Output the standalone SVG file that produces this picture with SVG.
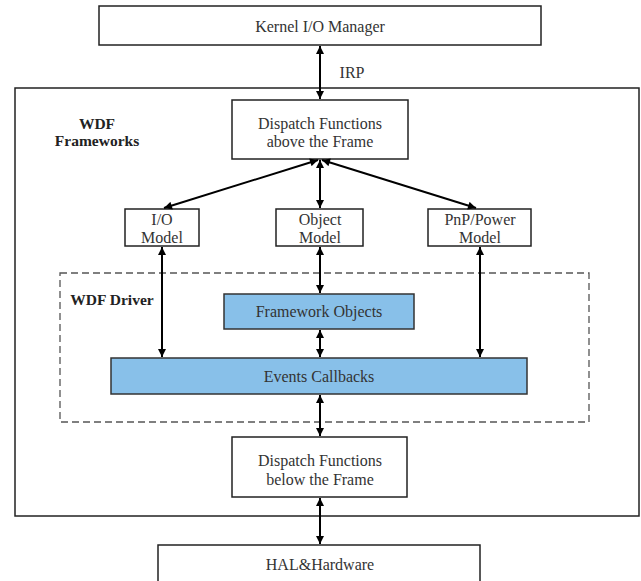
<svg xmlns="http://www.w3.org/2000/svg" width="641" height="581" viewBox="0 0 641 581">
<defs>
<marker id="ah" viewBox="0 0 10 10" refX="10" refY="5" markerWidth="9" markerHeight="8" markerUnits="userSpaceOnUse" orient="auto-start-reverse">
<path d="M0,0 L10,5 L0,10 z" fill="#000"/>
</marker>
<style>
.box{fill:#fff;stroke:#222;stroke-width:1.5}
.blue{fill:#88c0e9;stroke:#333;stroke-width:1.5}
text{font-family:'Liberation Serif','DejaVu Serif',serif}
.t{font-size:16px;fill:#333;text-anchor:middle}
.b{font-size:15.5px;font-weight:bold;fill:#222;text-anchor:middle}
.c{stroke:#000;stroke-width:2;fill:none;marker-start:url(#ah);marker-end:url(#ah)}
</style>
</defs>
<rect width="641" height="581" fill="#fff"/>
<g id="frameworks">
<rect x="15" y="88" width="624" height="428" class="box"/>
<text class="b" x="97" y="129">WDF</text>
<text class="b" x="97" y="146">Frameworks</text>
</g>
<g id="driver">
<rect x="60" y="273" width="529" height="149" fill="none" stroke="#555" stroke-width="1.3" stroke-dasharray="7,4"/>
<text class="b" x="112" y="305">WDF Driver</text>
</g>
<g id="kernel">
<rect x="99" y="6" width="442" height="39" class="box"/>
<text class="t" x="320" y="32">Kernel I/O Manager</text>
</g>
<g id="dispatch-above">
<rect x="232" y="100" width="176" height="59" class="box"/>
<text class="t" x="320" y="129">Dispatch Functions</text>
<text class="t" x="320" y="147">above the Frame</text>
</g>
<g id="io-model">
<rect x="125" y="209" width="74" height="37" class="box"/>
<text class="t" x="162" y="225">I/O</text>
<text class="t" x="162" y="243">Model</text>
</g>
<g id="object-model">
<rect x="276" y="209" width="87" height="37" class="box"/>
<text class="t" x="320" y="225">Object</text>
<text class="t" x="320" y="243">Model</text>
</g>
<g id="pnp-model">
<rect x="428" y="209" width="103" height="37" class="box"/>
<text class="t" x="480" y="225">PnP/Power</text>
<text class="t" x="480" y="243">Model</text>
</g>
<g id="framework-objects">
<rect x="224" y="294" width="190" height="35" class="blue"/>
<text class="t" x="319" y="317">Framework Objects</text>
</g>
<g id="events-callbacks">
<rect x="111" y="358" width="416" height="36" class="blue"/>
<text class="t" x="319" y="382">Events Callbacks</text>
</g>
<g id="dispatch-below">
<rect x="232" y="437" width="175" height="60" class="box"/>
<text class="t" x="320" y="466">Dispatch Functions</text>
<text class="t" x="320" y="485">below the Frame</text>
</g>
<g id="hal">
<rect x="158" y="545" width="322" height="40" class="box"/>
<text class="t" x="320" y="570">HAL&amp;Hardware</text>
</g>
<g id="connectors">
<line class="c" x1="320" y1="46" x2="320" y2="99"/>
<text class="t" x="352" y="78">IRP</text>
<line class="c" x1="320" y1="160" x2="320" y2="208"/>
<line class="c" x1="318" y1="160" x2="164" y2="208"/>
<line class="c" x1="322" y1="160" x2="476" y2="208"/>
<line class="c" x1="162" y1="247" x2="162" y2="357"/>
<line class="c" x1="480" y1="247" x2="480" y2="357"/>
<line class="c" x1="320" y1="247" x2="320" y2="293"/>
<line class="c" x1="320" y1="330" x2="320" y2="357"/>
<line class="c" x1="320" y1="395" x2="320" y2="436"/>
<line class="c" x1="320" y1="498" x2="320" y2="544"/>
</g>
</svg>
